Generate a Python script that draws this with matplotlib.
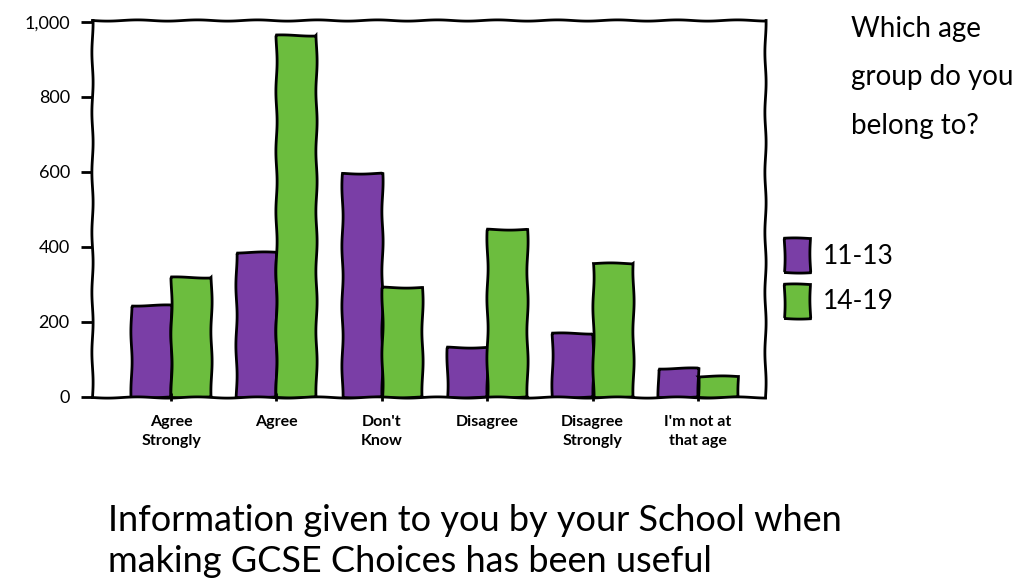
import matplotlib
matplotlib.use("Agg")
import matplotlib.pyplot as plt
from matplotlib.ticker import FuncFormatter
from matplotlib.patches import Patch
import numpy as np

categories = ["Agree\nStrongly", "Agree", "Don't\nKnow", "Disagree", "Disagree\nStrongly", "I'm not at\nthat age"]
series_names = ["11-13", "14-19"]
values_11_13 = [245, 386, 596, 133, 170, 77]
values_14_19 = [319, 965, 293, 447, 356, 56]
yticks = [0, 200, 400, 600, 800, 1000]

purple = "#7a3ea6"
green = "#6cbd3e"

plt.rcParams['font.family'] = ['Lato', 'DejaVu Sans']
plt.rcParams['path.sketch'] = (0.6, 60, 1)

fig = plt.figure(figsize=(10.28, 5.87), dpi=100)
ax = fig.add_axes([0.0895, 0.324, 0.655, 0.642])

x = np.arange(len(categories))
w = 0.38
ax.bar(x - w/2, values_11_13, w, color=purple, edgecolor="black", linewidth=2, label=series_names[0])
ax.bar(x + w/2, values_14_19, w, color=green, edgecolor="black", linewidth=2, label=series_names[1])

ax.set_xlim(-0.75, 5.64)
ax.set_ylim(0, 1005)
ax.set_yticks(yticks)
ax.yaxis.set_major_formatter(FuncFormatter(lambda v, p: f"{int(v):,}"))
ax.set_xticks(x)
ax.set_xticklabels(categories, fontsize=11.5, fontweight="bold", linespacing=1.5)
ax.tick_params(axis="y", labelsize=13, length=8, width=2, pad=8)
ax.tick_params(axis="x", length=6, width=2, direction="inout", pad=10)
for s in ax.spines.values():
    s.set_linewidth(2)

fig.text(0.828, 0.972, "Which age\ngroup do you\nbelong to?", fontsize=20, va="top", ha="left", linespacing=2.05)
handles = [Patch(facecolor=purple, edgecolor="black", linewidth=2),
           Patch(facecolor=green, edgecolor="black", linewidth=2)]
fig.legend(handles, series_names, loc="upper left", bbox_to_anchor=(0.74, 0.635), frameon=False,
           fontsize=19, handlelength=0.95, handleheight=1.6, handletextpad=0.5, labelspacing=0.45)

fig.text(0.105, 0.015, "Information given to you by your School when\nmaking GCSE Choices has been useful",
         fontsize=26, ha="left", va="bottom", linespacing=1.3)

fig.savefig("out.png", dpi=100)
